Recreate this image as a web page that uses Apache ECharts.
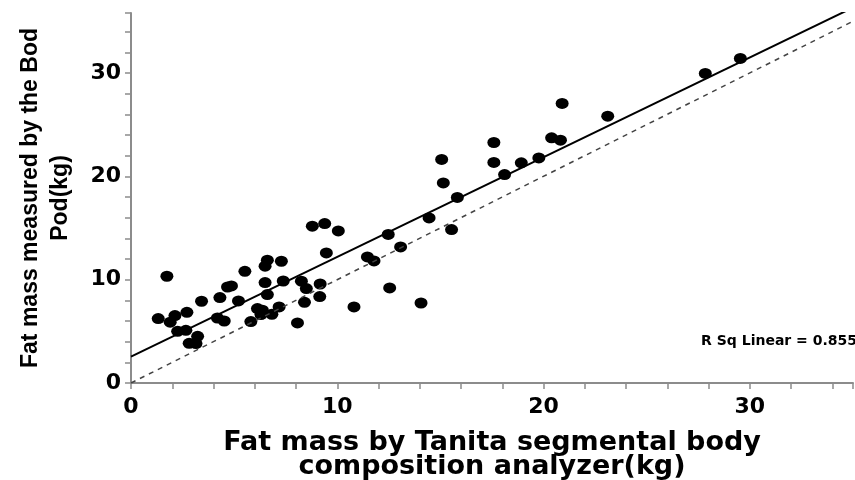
<!DOCTYPE html>
<html>
<head>
<meta charset="utf-8">
<script src="https://cdn.jsdelivr.net/npm/echarts@6/dist/echarts.min.js"></script>
<style>
  html, body { margin: 0; padding: 0; background: #fff; }
  #chart { width: 855px; height: 480px; }
</style>
</head>
<body>
<div id="chart"></div>
<script>
// Tanita fat mass (kg)
const tanitaKg = [
  1.32, 1.74, 1.90, 2.13, 2.26, 2.66, 2.71, 2.82, 3.15, 3.23,
  3.42, 4.19, 4.52, 4.31, 4.68, 4.87, 5.21, 5.52, 5.81, 6.13,
  6.37, 6.30, 6.83, 6.50, 6.61, 6.61, 6.50, 7.29, 7.18, 7.38,
  8.07, 8.26, 8.50, 8.41, 8.79, 9.39, 10.05, 9.47, 9.17, 9.15,
  10.81, 11.46, 11.78, 12.47, 12.54, 13.07, 14.06, 14.45, 15.06, 15.14,
  15.54, 15.82, 17.59, 17.59, 18.11, 18.92, 19.77, 20.39, 20.82, 20.90,
  23.11, 27.84, 29.54
];
// Bod Pod fat mass (kg), same order
const bodPodKg = [
  6.23, 10.33, 5.88, 6.52, 5.00, 5.10, 6.84, 3.84, 3.81, 4.52,
  7.91, 6.29, 6.00, 8.27, 9.29, 9.39, 7.94, 10.81, 5.94, 7.20,
  7.04, 6.62, 6.65, 9.72, 8.56, 11.88, 11.30, 11.78, 7.36, 9.87,
  5.81, 9.85, 9.14, 7.81, 15.17, 15.43, 14.71, 12.58, 9.58, 8.36,
  7.36, 12.20, 11.81, 14.37, 9.20, 13.17, 7.74, 15.97, 21.63, 19.36,
  14.85, 17.95, 23.27, 21.34, 20.17, 21.30, 21.78, 23.72, 23.49, 27.05,
  25.82, 29.95, 31.40
];
const axisTicks = [0, 10, 20, 30];
const fitIntercept = 2.55;
const fitSlope = 0.965;
const rSq = '0.855';

const xMax = 35;
const yMax = 35.8;

const points = tanitaKg.map((x, i) => [x, bodPodKg[i]]);
const fitLine = [[0, fitIntercept], [xMax, fitIntercept + fitSlope * xMax]];
const refLine = [[0, 0], [xMax, xMax]];

const labelFmt = v => (axisTicks.indexOf(v) >= 0 ? String(v) : '');
const axisColor = '#8c8c8c';

let myChart = echarts.init(document.getElementById('chart'));
myChart.setOption({
  animation: false,
  grid: {
    left: 131,
    right: 2,
    top: 13,
    bottom: 97,
    outerBoundsMode: 'none'
  },
  xAxis: {
    type: 'value',
    min: 0,
    max: xMax,
    interval: 2,
    splitLine: { show: false },
    axisLine: { lineStyle: { color: axisColor, width: 2 } },
    axisTick: { length: 6, lineStyle: { color: axisColor, width: 1.5 } },
    axisLabel: {
      formatter: labelFmt,
      margin: 13,
      color: '#000',
      fontFamily: 'DejaVu Sans',
      fontWeight: 'bold',
      fontSize: 22
    },
    name: 'Fat mass by Tanita segmental body\ncomposition analyzer(kg)',
    nameLocation: 'middle',
    nameGap: 48,
    nameTextStyle: {
      color: '#000',
      fontFamily: 'DejaVu Sans',
      fontWeight: 'bold',
      fontSize: 27,
      lineHeight: 24
    }
  },
  yAxis: {
    type: 'value',
    min: 0,
    max: yMax,
    interval: 2,
    splitLine: { show: false },
    axisLine: { lineStyle: { color: axisColor, width: 2 } },
    axisTick: { length: 6, lineStyle: { color: axisColor, width: 1.5 } },
    axisLabel: {
      formatter: labelFmt,
      margin: 10,
      color: '#000',
      fontFamily: 'DejaVu Sans',
      fontWeight: 'bold',
      fontSize: 22
    },
    name: 'Fat mass measured by the Bod\nPod(kg)',
    nameLocation: 'middle',
    nameGap: 55,
    nameTextStyle: {
      color: '#000',
      fontFamily: 'Liberation Sans',
      fontWeight: 'bold',
      fontSize: 23,
      lineHeight: 30
    }
  },
  series: [
    {
      type: 'line',
      data: refLine,
      symbol: 'none',
      lineStyle: { color: '#444', width: 1.5, type: [5, 5] },
      silent: true
    },
    {
      type: 'line',
      data: fitLine,
      symbol: 'none',
      lineStyle: { color: '#000', width: 2 },
      silent: true
    },
    {
      type: 'scatter',
      data: points,
      symbol: 'circle',
      symbolSize: [13, 11],
      itemStyle: { color: '#000', opacity: 1 }
    }
  ],
  graphic: [
    {
      type: 'text',
      right: -2,
      top: 334,
      style: {
        text: 'R Sq Linear = ' + rSq,
        fill: '#000',
        font: 'bold 14px "DejaVu Sans"'
      }
    }
  ]
});
</script>
</body>
</html>
